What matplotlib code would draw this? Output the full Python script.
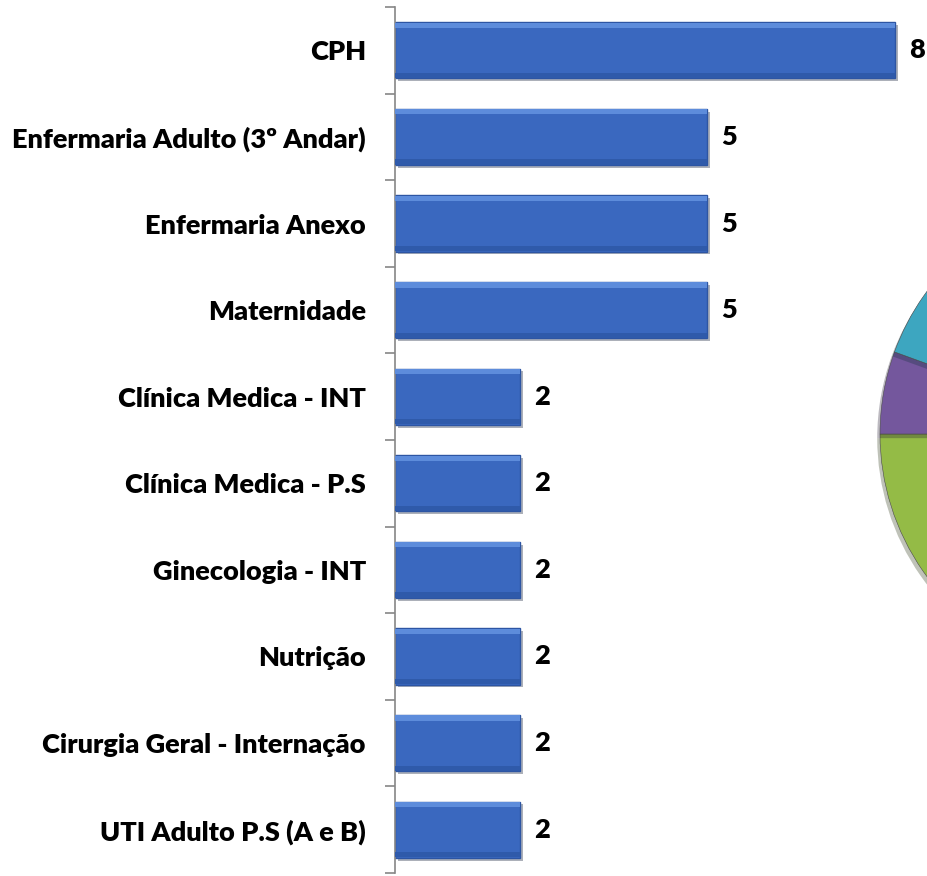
import matplotlib.pyplot as plt
import matplotlib.patheffects as pe
import numpy as np

setores = ['CPH', 'Enfermaria Adulto (3º Andar)', 'Enfermaria Anexo', 'Maternidade',
           'Clínica Medica - INT', 'Clínica Medica - P.S', 'Ginecologia - INT',
           'Nutrição', 'Cirurgia Geral - Internação', 'UTI Adulto P.S (A e B)']
quantidade = [8, 5, 5, 5, 2, 2, 2, 2, 2, 2]

# pie on the right is cut off by the picture edge; only three slices show
fatias = [120, 80, 70, 20, 30, 40]
cores_fatias = ['#4F81BD', '#C0504D', '#94BB46', '#74579D', '#3DA6C0', '#F79646']

plt.rcParams['font.family'] = ['Lato', 'DejaVu Sans']

fig = plt.figure(figsize=(9.28, 8.76), dpi=100)
ax = fig.add_axes([395 / 928, 3 / 876, 1 - 395 / 928, 866 / 876])

y = np.arange(len(setores))
sombra = [pe.SimplePatchShadow(offset=(2, -2), alpha=0.35), pe.Normal()]
barras = ax.barh(y, quantidade, height=0.65, color='#3A68BF', edgecolor='#2D55A3',
                 linewidth=1.0, zorder=2)
for b in barras:
    b.set_path_effects(sombra)
# bevel highlight / dark strips
ax.barh(y - 0.29, quantidade, height=0.06, color='#5D8CDB', linewidth=0, zorder=3)
ax.barh(y + 0.29, quantidade, height=0.06, color='#2F5AAA', linewidth=0, zorder=3)

for yi, v in zip(y, quantidade):
    ax.text(v + 0.22, yi, str(v), va='center', ha='left', fontsize=19.5,
            fontweight='heavy', color='black')

ax.set_xlim(0, (928 - 395) / 62.5)
ax.set_ylim(len(setores) - 0.5, -0.5)
ax.set_yticks(y)
ax.set_yticklabels(setores, fontsize=19.5, fontweight='heavy')
ax.tick_params(axis='y', which='major', length=0, pad=21)
ax.set_yticks(np.arange(len(setores) + 1) - 0.5, minor=True)
ax.tick_params(axis='y', which='minor', length=7, width=1.2, color='#868686')
ax.set_xticks([])
for s in ['top', 'right', 'bottom']:
    ax.spines[s].set_visible(False)
ax.spines['left'].set_color('#868686')
ax.spines['left'].set_linewidth(1.2)

# partial pie at the right edge
axp = fig.add_axes([880 / 928, (876 - 434 - 240) / 876, 480 / 928, 480 / 876])
cunhas, _ = axp.pie(fatias, colors=cores_fatias, startangle=90, counterclock=False,
                    wedgeprops=dict(edgecolor='#4a4a4a', linewidth=0.4))
for c in cunhas:
    c.set_path_effects([pe.SimplePatchShadow(offset=(-2, -3), alpha=0.3), pe.Normal()])
axp.set_xlim(-1, 1)
axp.set_ylim(-1, 1)
axp.axis('off')

fig.savefig('out.png', dpi=100)
